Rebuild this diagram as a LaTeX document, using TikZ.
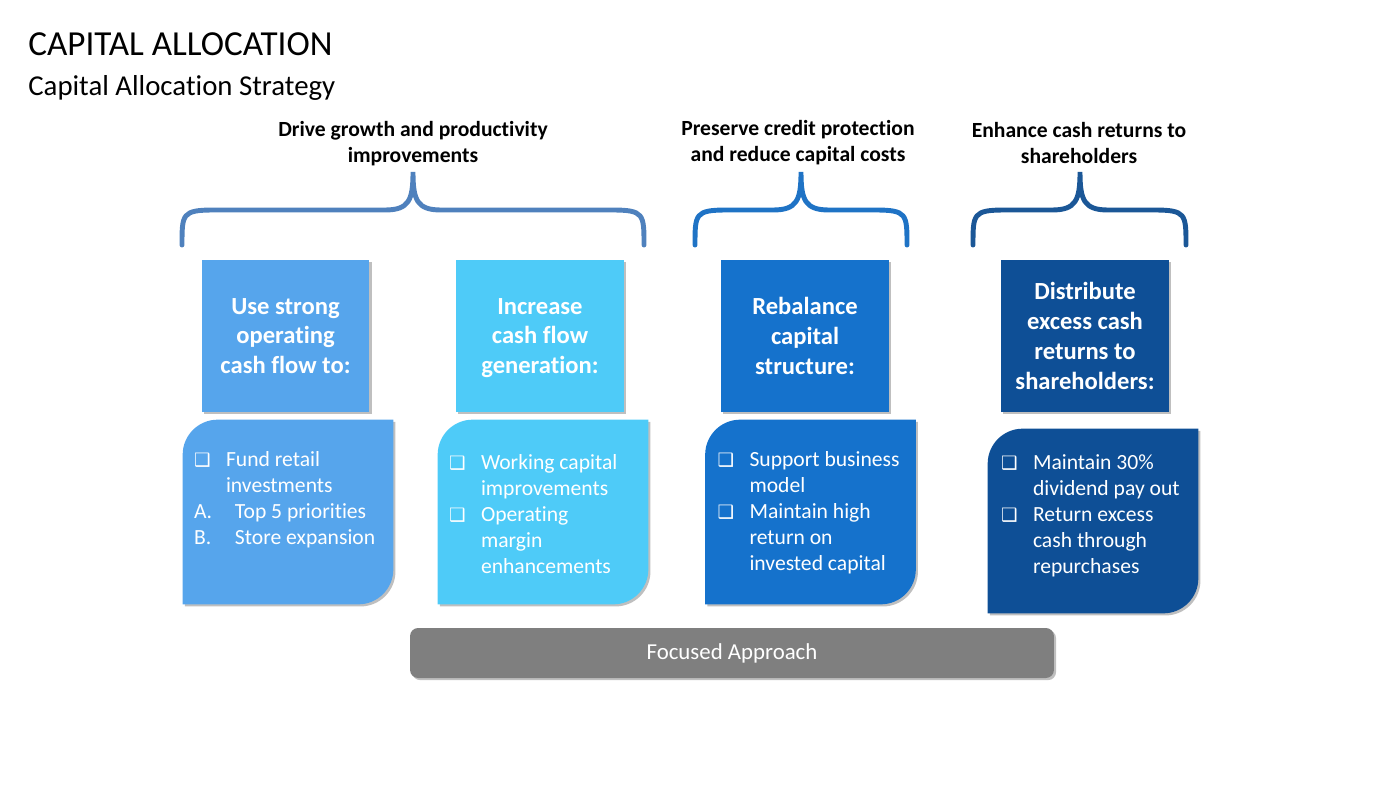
\documentclass[tikz,border=0pt]{standalone}
\usepackage{fontspec}
\setmainfont{Carlito}[Ligatures=NoCommon]
\newfontfamily\symfont{DejaVu Sans}
\usetikzlibrary{positioning,shadows,backgrounds}

\definecolor{boxA}{HTML}{56A5EC}
\definecolor{boxB}{HTML}{4ECBF8}
\definecolor{boxC}{HTML}{1572CC}
\definecolor{boxD}{HTML}{0E4F96}
\definecolor{braceA}{HTML}{4F81BD}
\definecolor{braceB}{HTML}{1F73C5}
\definecolor{braceC}{HTML}{1B5797}
\definecolor{barGray}{HTML}{7F7F7F}

\newcommand{\chk}{\makebox[0.64cm][l]{\fontsize{10.5}{10.5}\symfont ❑}}
\newcommand{\gap}{\hspace*{0.64cm}}
\newcommand{\lbl}[1]{\makebox[0.82cm][l]{#1}}
\newcommand{\nodepth}[1]{\raisebox{0pt}[\height][0pt]{#1}}
%% curly brace over a group: left x, middle x, right x, colour
\newcommand{\groupbrace}[4]{%
  \draw[brace,#4] (#1,245) .. controls (#1,214) and (#1,210) .. (#1+32,210)
    -- (#2-28,210) .. controls (#2-4,210) and (#2,200) .. (#2,172)
    .. controls (#2,200) and (#2+4,210) .. (#2+28,210)
    -- (#3-32,210) .. controls (#3,210) and (#3,214) .. (#3,245);}

\tikzset{
  softshadow/.style={drop shadow={shadow xshift=1.2pt,shadow yshift=-1.2pt,opacity=0.25,fill=black}},
  headbox/.style={minimum width=3.36cm,minimum height=3.04cm,inner sep=0pt,text=white,
    align=center,font=\fontsize{14}{17}\selectfont\bfseries,softshadow},
  listbox/.style={minimum width=4.2cm,minimum height=3.68cm,inner sep=0pt},
  listtext/.style={anchor=north west,inner sep=0pt,text=white,align=left,
    font=\fontsize{12.3}{14.8}\selectfont},
  grouplabel/.style={font=\fontsize{12.3}{14.8}\selectfont\bfseries,align=center},
  brace/.style={line width=2.8pt,line cap=round}
}

\begin{document}
\begin{tikzpicture}[x=0.02cm,y=-0.02cm]
    \useasboundingbox (0,0) rectangle (1400,788);
    %% titles
    \node[anchor=base west,inner sep=0pt,font=\fontsize{20}{24}\selectfont] (title) at (28,55) {CAPITAL ALLOCATION};
    \node[anchor=base west,inner sep=0pt,font=\fontsize{16.4}{20}\selectfont] (subtitle) at (28,95) {Capital Allocation Strategy};
    %% group labels and braces
    \node[grouplabel] (growth) at (413,144) {Drive growth and productivity\\improvements};
    \node[grouplabel] (credit) at (798,143) {Preserve credit protection\\and reduce capital costs};
    \node[grouplabel] (returns) at (1079,143) {Enhance cash returns to\\shareholders};
    \groupbrace{182}{413}{644}{braceA}
    \groupbrace{695}{801}{907}{braceB}
    \groupbrace{973}{1080}{1186}{braceC}
    %% heading boxes
    \node[headbox,fill=boxA] (head1) at (285.5,336) {Use strong\\operating\\cash flow to:};
    \node[headbox,fill=boxB] (head2) at (540,336) {Increase\\cash flow\\\nodepth{generation:}};
    \node[headbox,fill=boxC] (head3) at (805,336) {Rebalance\\capital\\structure:};
    \node[headbox,fill=boxD] (head4) at (1085,336) {Distribute\\excess cash\\returns to\\shareholders:};
    %% list boxes
    \node[listbox] (low1) at (288,512) {};
    \node[listbox] (low2) at (543,512) {};
    \node[listbox] (low3) at (810.5,512) {};
    \node[listbox] (low4) at (1093,521) {};
    \begin{scope}[on background layer]
        \foreach \b/\c in {low1/boxA,low2/boxB,low3/boxC,low4/boxD}
            \fill[\c,softshadow] (\b.south west) [rounded corners=0.7cm] -- (\b.north west)
                [sharp corners] -- (\b.north east) [rounded corners=0.7cm] -- (\b.south east)
                [sharp corners] -- cycle;
    \end{scope}
    \node[listtext] (list1) at ([shift={(11,31)}]low1.north west)
        {\chk Fund retail\\\gap investments\\\lbl{A.}Top 5 priorities\\\lbl{B.}Store expansion};
    \node[listtext] (list2) at ([shift={(11,34)}]low2.north west)
        {\chk Working capital\\\gap improvements\\\chk Operating\\\gap margin\\\gap enhancements};
    \node[listtext] (list3) at ([shift={(12,31)}]low3.north west)
        {\chk Support business\\\gap model\\\chk Maintain high\\\gap return on\\\gap invested capital};
    \node[listtext] (list4) at ([shift={(13,26)}]low4.north west)
        {\chk Maintain 30\%\\\gap dividend pay out\\\chk Return excess\\\gap cash through\\\gap repurchases};
    %% bottom bar
    \node[fill=barGray,rounded corners=0.16cm,minimum width=12.88cm,minimum height=1cm,
        text=white,font=\fontsize{13}{15}\selectfont,softshadow] (focus) at (732,653) {Focused Approach};
\end{tikzpicture}
\end{document}
